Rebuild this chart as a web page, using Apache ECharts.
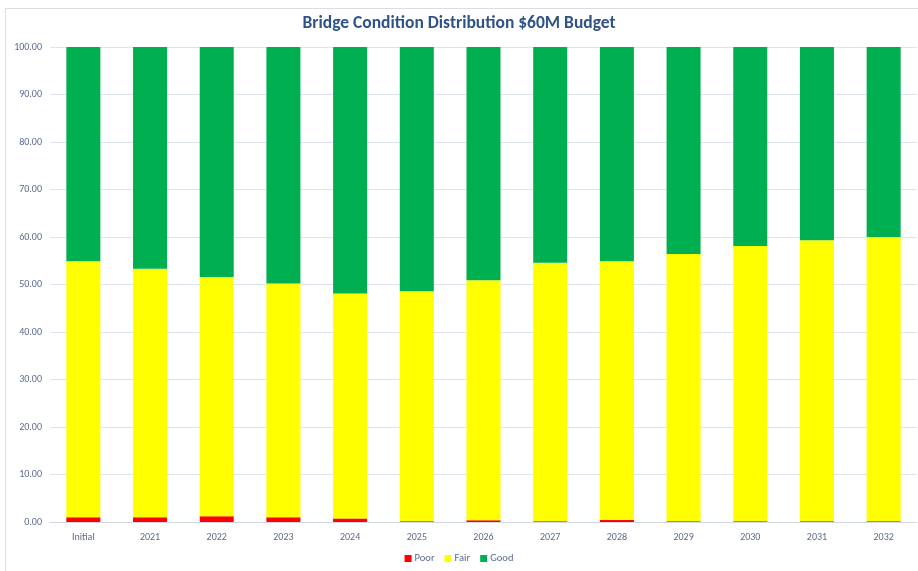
<!DOCTYPE html>
<html>
<head>
<meta charset="utf-8">
<script src="https://cdn.jsdelivr.net/npm/echarts@6/dist/echarts.min.js"></script>
<style>
html,body{margin:0;padding:0;background:#fff;}
#frame{position:absolute;left:5px;top:8px;width:930px;height:580px;border-left:1px solid #d9dde6;border-top:1px solid #d9dde6;pointer-events:none;}
#chart{position:absolute;left:0;top:0;width:918px;height:571px;}
</style>
</head>
<body>
<div id="chart"></div>
<div id="frame"></div>
<script>
var categories = ['Initial','2021','2022','2023','2024','2025','2026','2027','2028','2029','2030','2031','2032'];
var poor = [1.0, 1.0, 1.2, 1.0, 0.75, 0.15, 0.35, 0.15, 0.4, 0.15, 0.15, 0.15, 0.15];
var fair = [53.9, 52.3, 50.4, 49.2, 47.35, 48.45, 50.55, 54.45, 54.5, 56.25, 57.95, 59.15, 59.85];
var good = [45.1, 46.7, 48.4, 49.8, 51.9, 51.4, 49.1, 45.4, 45.1, 43.6, 41.9, 40.7, 40.0];
var yTicks = {min: 0, max: 100, interval: 10};

var chart = echarts.init(document.getElementById('chart'));
var labelColor = '#5b6b8c';
var font = 'Calibri, Carlito, "Liberation Sans", "Open Sans", sans-serif';
function series(name, data, color) {
  return {
    name: name, type: 'bar', stack: 'total', data: data,
    barCategoryGap: '49%',
    itemStyle: {color: color},
    emphasis: {disabled: true}
  };
}
chart.setOption({
  animation: false,
  textStyle: {fontFamily: font},
  title: {
    text: 'Bridge Condition Distribution $60M Budget',
    left: 'center', top: 10,
    padding: [5, 0, 5, 16],
    textStyle: {fontSize: 17.5, fontWeight: 'bold', color: '#2f5288', fontFamily: font}
  },
  legend: {
    bottom: 2, left: 'center',
    padding: [5, 0, 5, 16],
    itemWidth: 7, itemHeight: 7, itemGap: 10,
    icon: 'rect',
    textStyle: {fontSize: 10.5, color: labelColor, padding: [0, 0, 0, -2]},
    data: ['Poor', 'Fair', 'Good']
  },
  grid: {left: 50, right: 1, top: 47, bottom: 49, containLabel: false},
  xAxis: {
    type: 'category', data: categories,
    axisLine: {show: true, lineStyle: {color: '#d0d8e8'}},
    axisTick: {show: false},
    axisLabel: {fontSize: 10, color: labelColor, margin: 10}
  },
  yAxis: {
    type: 'value', min: yTicks.min, max: yTicks.max, interval: yTicks.interval,
    axisLine: {show: false}, axisTick: {show: false},
    splitLine: {lineStyle: {color: '#dde4f0'}},
    axisLabel: {fontSize: 10, color: labelColor, margin: 8, formatter: function (v) { return v.toFixed(2); }}
  },
  series: [
    series('Poor', poor, '#ff0000'),
    series('Fair', fair, '#ffff00'),
    series('Good', good, '#00b050')
  ]
});
</script>
</body>
</html>
